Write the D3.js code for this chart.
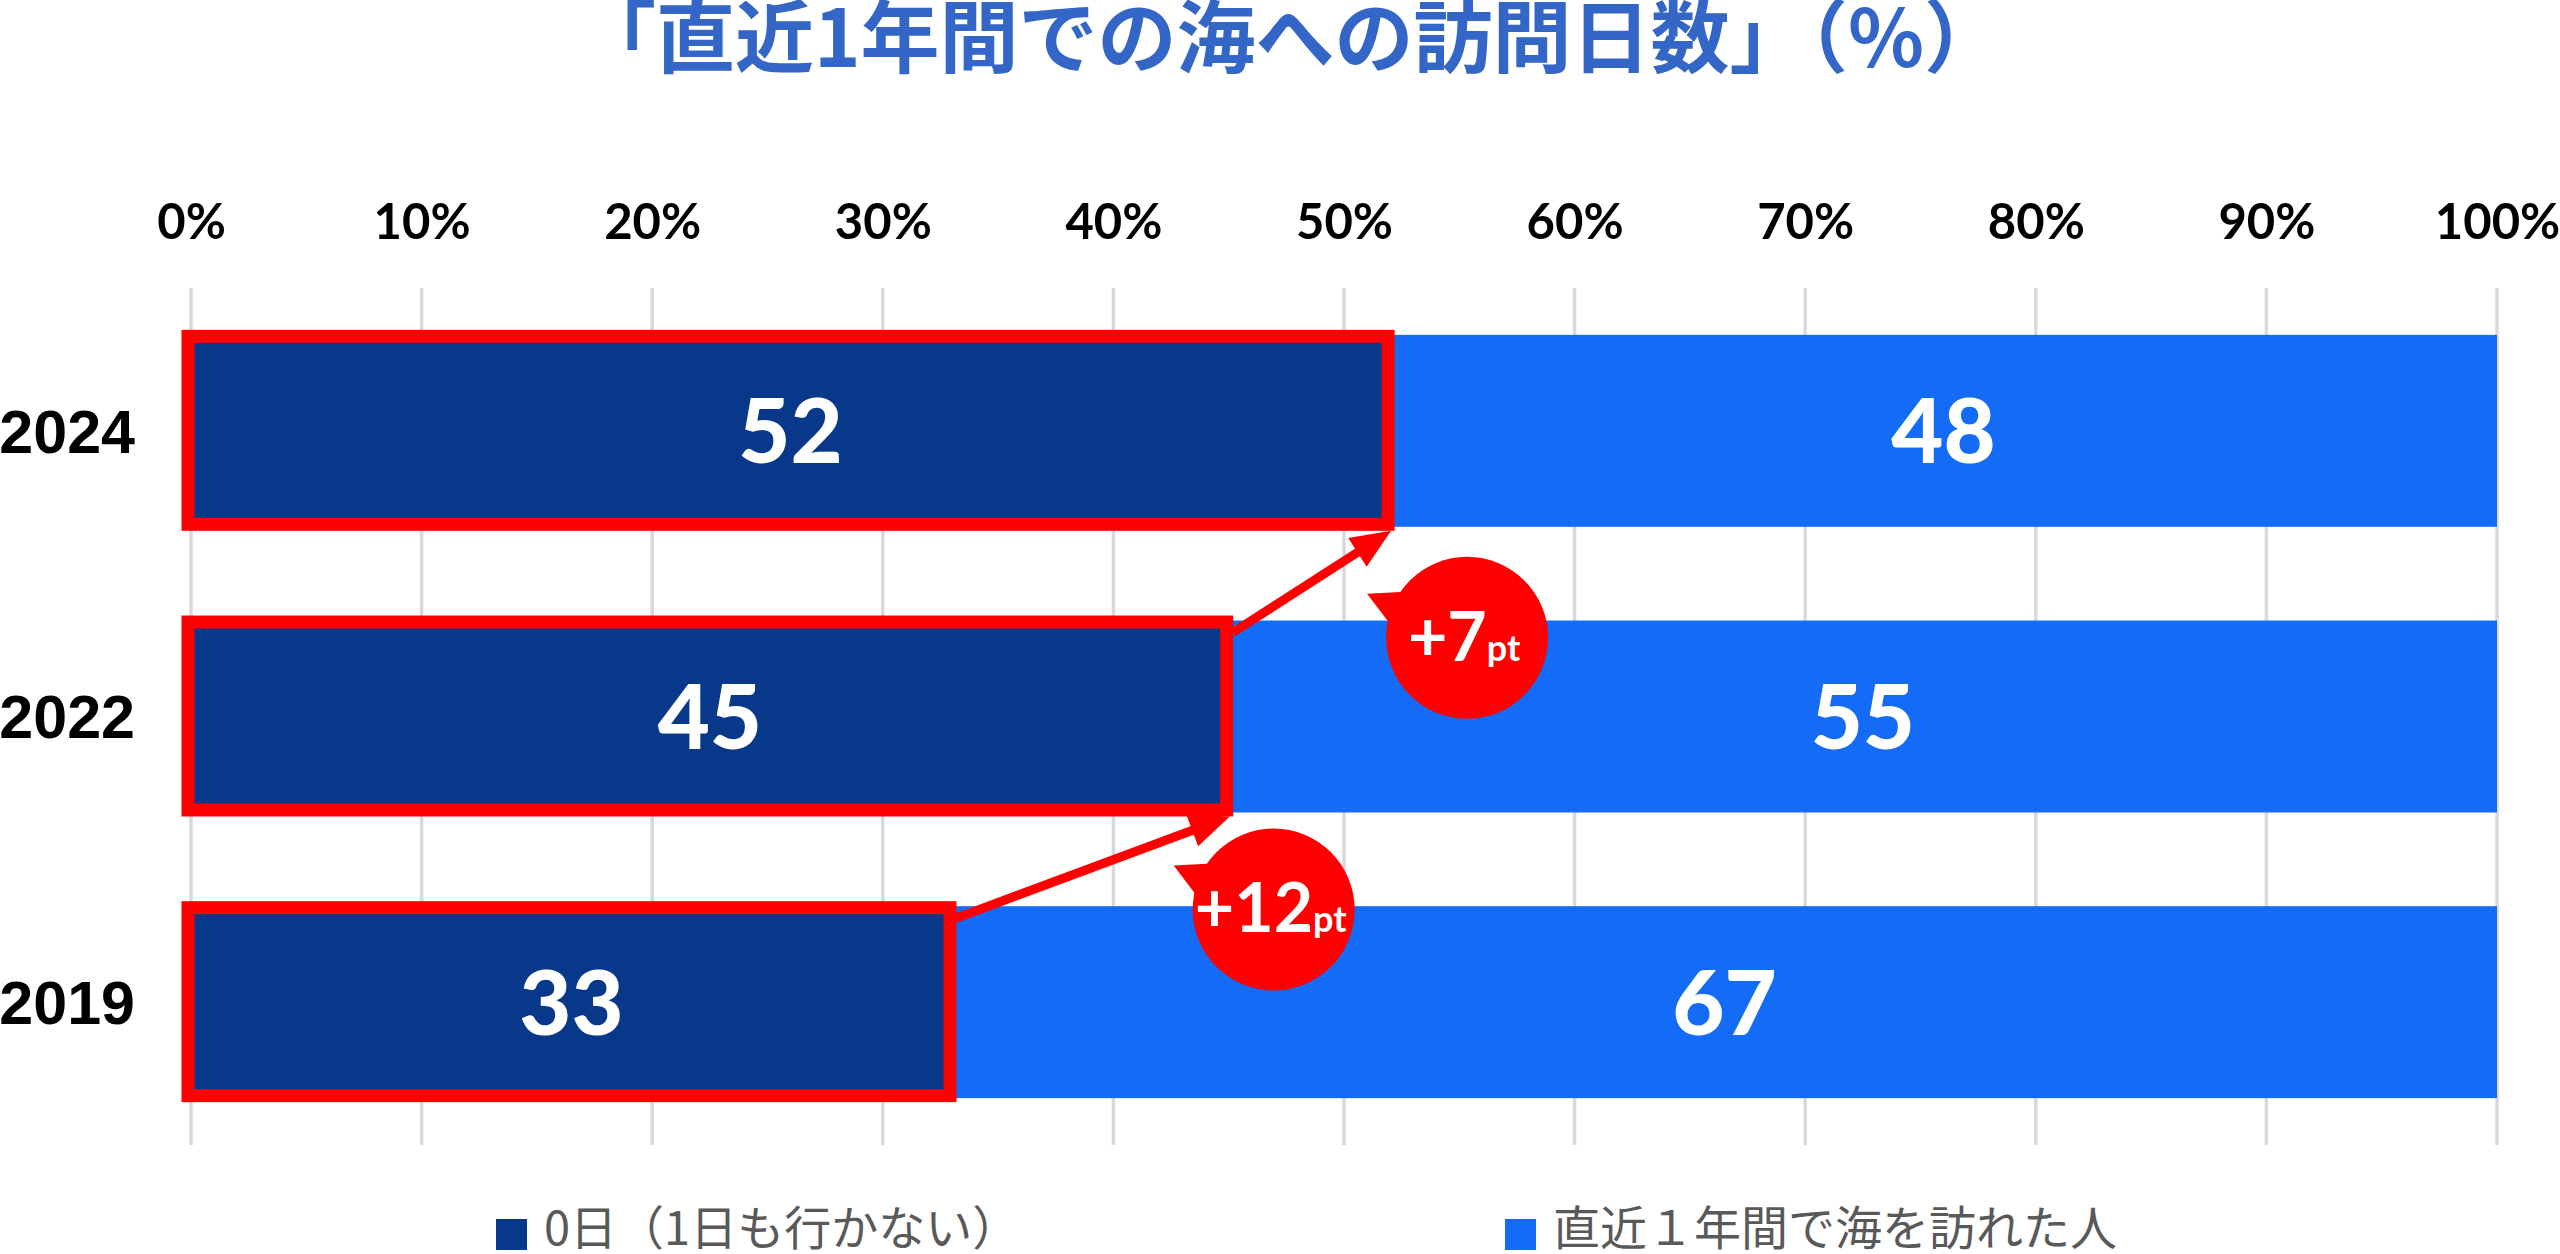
<!DOCTYPE html>
<html>
<head>
<meta charset="utf-8">
<script src="https://cdn.jsdelivr.net/npm/d3@7/dist/d3.min.js"></script>
<style>
  body { margin: 0; background: #fff; }
  svg { display: block; }
</style>
</head>
<body>
<div id="chart"></div>
<script>
"use strict";
// values
var title = "「直近1年間での海への訪問日数」（%）";
var years = ["2024", "2022", "2019"];
var zeroDays = [52, 45, 33];
var visited = [48, 55, 67];
var tickValues = [0, 10, 20, 30, 40, 50, 60, 70, 80, 90, 100];
var seriesKeys = ["zero", "visited"];
var legendLabels = ["0日（1日も行かない）", "直近１年間で海を訪れた人"];

var W = 2560, H = 1254;
var colors = { zero: "#08388A", visited: "#146CF6" };
var red = "#FF0000";

var g = {};
window.debugObj = g;

g.svg = d3.select("#chart").append("svg")
  .attr("width", W)
  .attr("height", H)
  .attr("viewBox", "0 0 " + W + " " + H);

g.x = d3.scaleLinear().domain([0, 100]).range([191, 2497]);
g.y = d3.scaleBand().domain(years).range([288, 1145])
  .paddingInner(0.328).paddingOuter(0.164);

var table = years.map(function(yr, i) {
  return { year: yr, zero: zeroDays[i], visited: visited[i] };
});
var stacked = d3.stack().keys(seriesKeys)(table);

// title
g.svg.append("text")
  .attr("x", 1290)
  .attr("y", 67)
  .attr("text-anchor", "middle")
  .attr("font-family", "'Noto Sans CJK JP', sans-serif")
  .attr("font-weight", 700)
  .attr("font-size", 79)
  .attr("fill", "#3366C6")
  .text(title);

// grid
g.svg.append("g").selectAll("line")
  .data(tickValues)
  .enter().append("line")
  .attr("x1", function(d) { return g.x(d); })
  .attr("x2", function(d) { return g.x(d); })
  .attr("y1", 288)
  .attr("y2", 1145)
  .attr("stroke", "#D9D9D9")
  .attr("stroke-width", 3.5);

// top axis labels
var axis = d3.axisTop(g.x)
  .tickValues(tickValues)
  .tickSize(0)
  .tickFormat(function(d) { return d + "%"; });
var axisG = g.svg.append("g")
  .attr("transform", "translate(0,239)")
  .call(axis);
axisG.select(".domain").remove();
axisG.selectAll("text")
  .attr("dy", 0)
  .attr("y", 0)
  .attr("font-family", "Lato, 'Noto Sans', sans-serif")
  .attr("font-weight", 700)
  .attr("font-size", 49)
  .attr("fill", "#000");

// year labels
var yAxis = d3.axisLeft(g.y).tickSize(0);
var yAxisG = g.svg.append("g")
  .attr("transform", "translate(135,0)")
  .call(yAxis);
yAxisG.select(".domain").remove();
yAxisG.selectAll("text")
  .attr("x", 0)
  .attr("dy", "0.36em")
  .attr("font-family", "'Liberation Sans', Arial, sans-serif")
  .attr("font-weight", 700)
  .attr("font-size", 61)
  .attr("fill", "#000");

// bars
var layers = g.svg.append("g").selectAll("g")
  .data(stacked)
  .enter().append("g")
  .attr("fill", function(d) { return colors[d.key]; });

layers.selectAll("rect")
  .data(function(d) { return d; })
  .enter().append("rect")
  .attr("x", function(d) { return g.x(d[0]); })
  .attr("width", function(d) { return g.x(d[1]) - g.x(d[0]); })
  .attr("y", function(d) { return g.y(d.data.year); })
  .attr("height", g.y.bandwidth());

layers.selectAll("text")
  .data(function(d) { return d; })
  .enter().append("text")
  .attr("x", function(d) { return (g.x(d[0]) + g.x(d[1])) / 2; })
  .attr("y", function(d) { return g.y(d.data.year) + g.y.bandwidth() / 2; })
  .attr("dy", "0.36em")
  .attr("text-anchor", "middle")
  .attr("font-family", "Lato, 'Liberation Sans', sans-serif")
  .attr("font-weight", 900)
  .attr("font-size", 90)
  .attr("fill", "#fff")
  .text(function(d) { return d[1] - d[0]; });

// red outlines round the zero-day segments
var bw = g.y.bandwidth();
g.svg.append("g").selectAll("rect")
  .data(table)
  .enter().append("rect")
  .attr("x", g.x(0) - 3)
  .attr("width", function(d) { return g.x(d.zero) - 2 - (g.x(0) - 3); })
  .attr("y", function(d) { return g.y(d.year) + 1.5; })
  .attr("height", bw - 4)
  .attr("fill", "none")
  .attr("stroke", red)
  .attr("stroke-width", 13);

// arrows from one year to the next, with bubbles
var bubbleOffset = [[76, 107], [44, 93]];
var arrowG = g.svg.append("g");
for (var i = 0; i < years.length - 1; i++) {
  var lo = table[i + 1], hi = table[i];
  var x0 = g.x(lo.zero) + 4, y0 = g.y(lo.year) + 12;
  var x1 = g.x(hi.zero) + 1, y1 = g.y(hi.year) + bw + 4;
  var ang = Math.atan2(y1 - y0, x1 - x0);
  var headLen = 40, headW = 17;
  var bx = x1 - headLen * Math.cos(ang), by = y1 - headLen * Math.sin(ang);
  arrowG.append("line")
    .attr("x1", x0).attr("y1", y0)
    .attr("x2", bx + 4 * Math.cos(ang)).attr("y2", by + 4 * Math.sin(ang))
    .attr("stroke", red)
    .attr("stroke-width", 9);
  var px = -Math.sin(ang), py = Math.cos(ang);
  arrowG.append("path")
    .attr("d", d3.line()([
      [x1, y1],
      [bx + px * headW, by + py * headW],
      [bx - px * headW, by - py * headW]
    ]) + "Z")
    .attr("fill", red);

  var cx = x1 + bubbleOffset[i][0], cy = y1 + bubbleOffset[i][1];
  var bub = arrowG.append("g").attr("transform", "translate(" + cx + "," + cy + ")");
  bub.append("path")
    .attr("d", d3.line()([[-100, -44], [-62, -46], [-78, -15]]) + "Z")
    .attr("fill", red);
  bub.append("circle")
    .attr("r", 81)
    .attr("fill", red);
  var t = bub.append("text")
    .attr("x", -3)
    .attr("y", 23)
    .attr("text-anchor", "middle")
    .attr("font-family", "Lato, 'Noto Sans', sans-serif")
    .attr("font-weight", 700)
    .attr("fill", "#fff");
  t.append("tspan")
    .attr("font-size", 68)
    .text("+" + (hi.zero - lo.zero));
  t.append("tspan")
    .attr("font-size", 36)
    .text("pt");
}

// legend
var legendX = [496, 1505];
var leg = g.svg.append("g").selectAll("g")
  .data(seriesKeys)
  .enter().append("g")
  .attr("transform", function(d, i) { return "translate(" + legendX[i] + ",0)"; });
leg.append("rect")
  .attr("x", 0)
  .attr("y", 1219)
  .attr("width", 31)
  .attr("height", 31)
  .attr("fill", function(d) { return colors[d]; });
leg.append("text")
  .attr("x", 48)
  .attr("y", 1245)
  .attr("font-family", "'Noto Sans CJK JP', sans-serif")
  .attr("font-size", 47)
  .attr("fill", "#595959")
  .text(function(d, i) { return legendLabels[i]; });
</script>
</body>
</html>
